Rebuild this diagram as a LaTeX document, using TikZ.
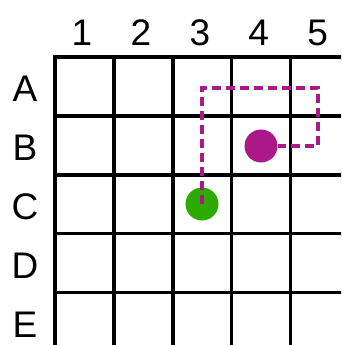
\documentclass[tikz,border=0pt]{standalone}
\usepackage{fontspec}
\setmainfont{Liberation Sans}
\definecolor{pathmag}{RGB}{170,25,135}
\definecolor{dotgreen}{RGB}{45,170,0}
\tikzset{
  gridline/.style={line width=3.4pt, black},
  lbl/.style={font=\fontsize{37}{40}\selectfont, inner sep=0pt, anchor=center},
  dot/.style={circle, minimum size=33pt, inner sep=0pt, draw=none},
  route/.style={pathmag, line width=3.3pt, dash pattern=on 9pt off 5pt}
}
\begin{document}
\begin{tikzpicture}[x=1pt,y=-1pt]
\useasboundingbox (0,0) rectangle (341,345);
\begin{scope}
\clip (0,0) rectangle (341,345);
\foreach \i in {0,...,4} {
  \draw[gridline] ({55+58.9*\i},57) -- ({55+58.9*\i},350);
  \draw[gridline] (53.3,{57+58.9*\i}) -- (350,{57+58.9*\i});
}
\end{scope}
\foreach \t [count=\i from 0] in {1,2,3,4,5}
  \node[lbl] (c\t) at ({82+58.9*\i},33) {\t};
\foreach \t [count=\i from 0] in {A,B,C,D,E}
  \node[lbl] (r\t) at (25,{89+58.9*\i}) {\t};
\node[dot, fill=dotgreen] (green) at (202,204) {};
\node[dot, fill=pathmag] (mag) at (261,146) {};
\coordinate (p1) at (202,88);
\coordinate (p2) at (318,88);
\coordinate (p3) at (318,146);
\draw[route] (green.center) -- (p1) -- (p2) -- (p3) -- (mag.east);
\end{tikzpicture}
\end{document}
